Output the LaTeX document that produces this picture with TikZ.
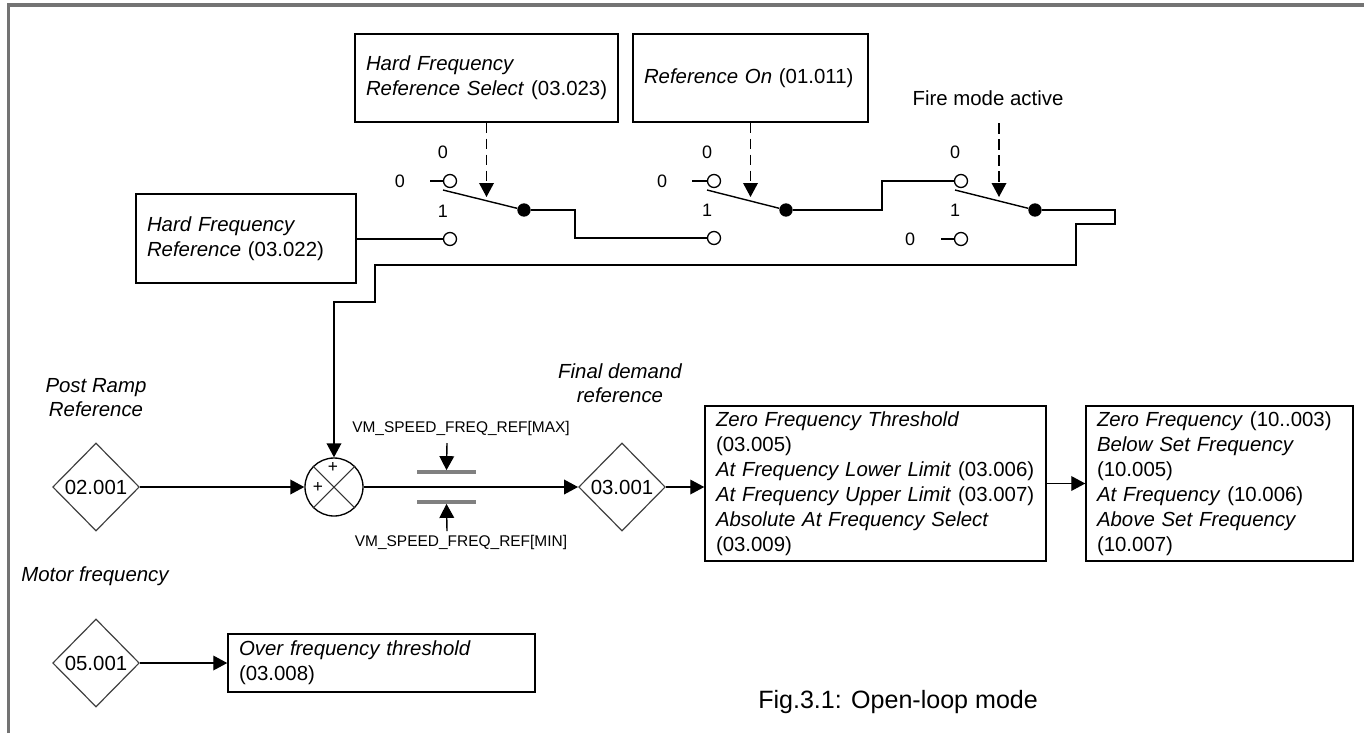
\documentclass[tikz,border=0pt]{standalone}
\usepackage{fontspec}
\setmainfont{Liberation Sans}
\usetikzlibrary{arrows.meta,shapes.geometric}
\begin{document}
\begin{tikzpicture}[x=0.75pt,y=-0.75pt,
  wire/.style={line width=1.05pt},
  arr/.style={line width=1.05pt,-{Triangle[length=10.5pt,width=11pt]}},
  darr/.style={line width=1.05pt,dash pattern=on 8pt off 4pt,-{Triangle[length=10.5pt,width=11pt]}},
  pbox/.style={draw,line width=1.1pt,rectangle,align=left,inner xsep=8.25pt,inner ysep=0pt,font=\fontsize{15.3}{18.75}\selectfont},
  dia/.style={draw=black!75,line width=0.9pt,diamond,aspect=1,inner sep=0pt,minimum width=65pt,minimum height=66pt,font=\fontsize{15.3}{18}\selectfont},
  ocirc/.style={draw,circle,line width=1pt,fill=white,inner sep=0pt,minimum size=9.75pt},
  sdot/.style={circle,fill=black,inner sep=0pt,minimum size=10pt},
  swlab/.style={font=\fontsize{13.5}{15}\selectfont,inner sep=0pt},
  lab/.style={font=\fontsize{15.3}{18}\selectfont\itshape,inner sep=0pt,align=center},
  vmlab/.style={font=\fontsize{11.6}{13}\selectfont,inner sep=0pt},
  clampbar/.style={fill=black!50,minimum width=44.25pt,minimum height=2.4pt,inner sep=0pt},
  plus/.style={font=\fontsize{13}{14}\selectfont,inner sep=0pt}
]
\useasboundingbox (0,0) rectangle (1364,733);
\draw[line width=2.6pt,black!55] (8.5,733) -- (8.5,5) -- (1364,5);

% parameter boxes
\node[pbox,minimum width=197.25pt,minimum height=66pt,text width=180.75pt] (bsel) at (486.5,78) {\textit{Hard Frequency}\\\mbox{\textit{Reference Select} (03.023)}};
\node[pbox,minimum width=176.25pt,minimum height=66pt,text width=159.75pt] (bron) at (750.5,78) {\mbox{\textit{Reference On} (01.011)}};
\node[pbox,minimum width=165pt,minimum height=66.75pt,text width=148.5pt] (bhfr) at (246,238.5) {\textit{Hard Frequency}\\\mbox{\textit{Reference} (03.022)}};
\node[font=\fontsize{15.3}{18}\selectfont,anchor=base,inner sep=0pt] (fire) at (988,105) {Fire mode active};

% switch 1
\node[ocirc] (s1t) at (450,181) {};
\node[ocirc] (s1b) at (450,239) {};
\node[sdot] (s1d) at (524,210) {};
\node[swlab] (s1l0) at (443,152) {0};
\node[swlab] (s1l1) at (443,211) {1};
\node[swlab] (s1z) at (400,181) {0};
\coordinate (s1s) at (430,181);
\coordinate (s1p) at (443,190);
\coordinate (s1a) at (487,197);
\draw[wire] (s1s) -- (s1t);
\draw[wire] (s1p) -- (s1d);
\draw[darr] (bsel.south) -- (bsel.south |- s1a);

% switch 2
\node[ocirc] (s2t) at (714,181) {};
\node[ocirc] (s2b) at (714,238) {};
\node[sdot] (s2d) at (786,210) {};
\node[swlab] (s2l0) at (707,152) {0};
\node[swlab] (s2l1) at (707,210) {1};
\node[swlab] (s2z) at (662,181) {0};
\coordinate (s2s) at (692,181);
\coordinate (s2p) at (707,190);
\coordinate (s2a) at (750,197);
\draw[wire] (s2s) -- (s2t);
\draw[wire] (s2p) -- (s2d);
\draw[darr] (bron.south) -- (bron.south |- s2a);

% switch 3
\node[ocirc] (s3t) at (961,181) {};
\node[ocirc] (s3b) at (961,239) {};
\node[sdot] (s3d) at (1035,210) {};
\node[swlab] (s3l0) at (955,152) {0};
\node[swlab] (s3l1) at (955,210) {1};
\node[swlab] (s3z) at (910,239) {0};
\coordinate (s3s) at (941,239);
\coordinate (s3p) at (955,190);
\coordinate (s3f) at (999,123);
\coordinate (s3a) at (999,197);
\draw[wire] (s3s) -- (s3b);
\draw[wire] (s3p) -- (s3d);
\draw[darr] (s3f) -- (s3a);

% summing junction and diamonds
\node[draw,circle,line width=1pt,minimum size=43.5pt,inner sep=0pt] (sum) at (334,487) {};
\draw[line width=0.8pt,black!80] (sum.45) -- (sum.225) (sum.135) -- (sum.315);
\node[plus] (plt) at (333,467) {+};
\node[plus] (pll) at (318,487) {+};
\node[dia] (d2) at (96,487) {02.001};
\node[dia] (d3) at (622,487) {03.001};
\node[dia] (d5) at (96,663) {05.001};

% wires
\draw[wire] (bhfr.east |- s1b) -- (s1b);
\draw[wire] (s1d) -- (575,210) |- (s2b);
\draw[wire] (s2d) -- (882,210) |- (s3t);
\draw[arr] (s3d) -- (1115,210) -- (1115,224) -- (1076,224) -- (1076,265) -- (375,265) -- (375,302) -| (sum);

% clamp
\node[clampbar] (cmax) at (446.5,472) {};
\node[clampbar] (cmin) at (446.5,502) {};
\node[vmlab] (vmax) at (461,428) {VM\_SPEED\_FREQ\_REF[MAX]};
\node[vmlab] (vmin) at (461,542) {VM\_SPEED\_FREQ\_REF[MIN]};
\coordinate (vmaxa) at (447,443);
\coordinate (vmina) at (447,531);
\draw[arr] (vmaxa) -- (cmax.north);
\draw[arr] (vmina) -- (cmin.south);

% output boxes
\node[pbox,minimum width=255.75pt,minimum height=116.25pt,text width=239.25pt] (bA) at (875.5,483.5) {\mbox{\textit{Zero Frequency Threshold}}\\(03.005)\\\mbox{\textit{At Frequency Lower Limit} (03.006)}\\\mbox{\textit{At Frequency Upper Limit} (03.007)}\\\mbox{\textit{Absolute At Frequency Select}}\\(03.009)};
\node[pbox,minimum width=200.25pt,minimum height=116.25pt,text width=183.75pt] (bB) at (1219.5,483.5) {\mbox{\textit{Zero Frequency} (10..003)}\\\mbox{\textit{Below Set Frequency}}\\(10.005)\\\mbox{\textit{At Frequency} (10.006)}\\\mbox{\textit{Above Set Frequency}}\\(10.007)};
\node[pbox,minimum width=230.25pt,minimum height=43.5pt,text width=213.75pt] (bover) at (381.5,663) {\mbox{\textit{Over frequency threshold}}\\(03.008)};

\draw[arr] (d2) -- (sum);
\draw[arr] (sum) -- (d3);
\draw[arr] (d3.east) -- (d3.east -| bA.west);
\draw[arr] (bA.east) -- (bB.west);
\draw[arr] (d5) -- (bover);

% labels
\node[lab] (lpr) at (96,398) {Post Ramp\\Reference};
\node[lab] (lfd) at (620,383) {Final demand\\reference};
\node[lab,anchor=base west] (lmf) at (21,581) {Motor frequency};
\node[font=\fontsize{18.8}{22}\selectfont,anchor=base west,inner sep=0pt] (cap) at (758,708) {Fig.3.1: Open-loop mode};
\end{tikzpicture}
\end{document}
